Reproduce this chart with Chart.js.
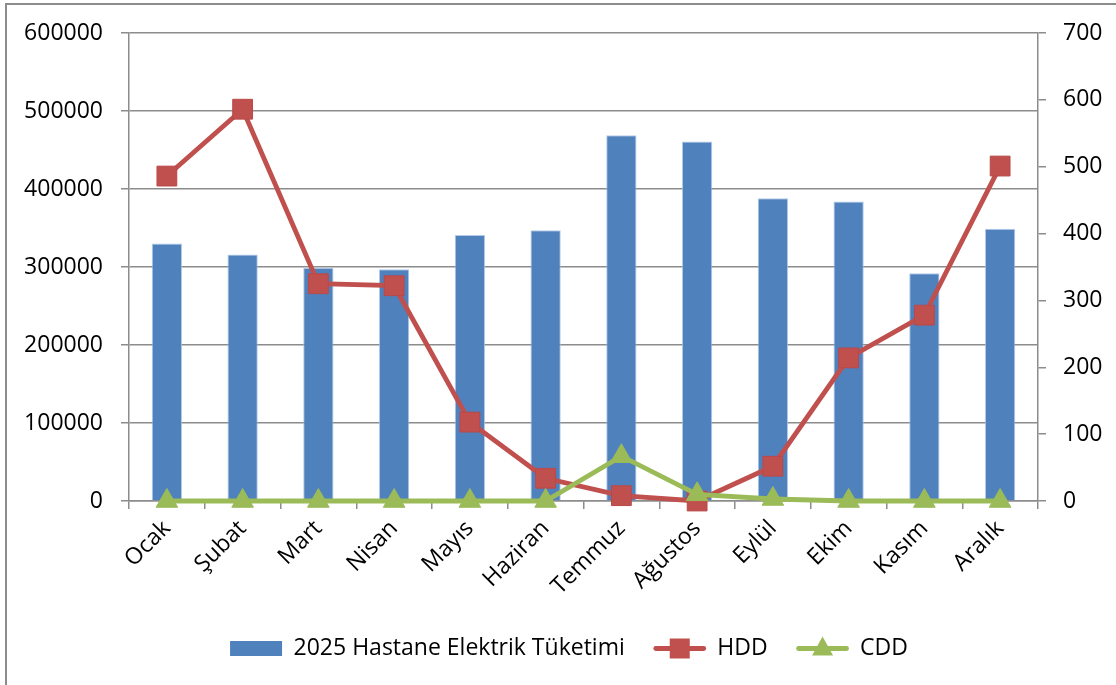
<!DOCTYPE html>
<html>
<head>
<meta charset="utf-8">
<script src="https://cdn.jsdelivr.net/npm/chart.js@4.4.1/dist/chart.umd.min.js"></script>
<style>
  html, body { margin:0; padding:0; background:#fff; }
  #wrap { position:relative; width:1116px; height:685px; overflow:hidden; }
  #frame { position:absolute; left:5px; top:3px; width:1200px; height:800px; border-left:2px solid #8c8c8c; border-top:2px solid #8c8c8c; pointer-events:none; }
  canvas { position:absolute; left:0; top:0; }
</style>
</head>
<body>
<div id="wrap">
  <canvas id="c" width="1116" height="685"></canvas>
  <div id="frame"></div>
</div>
<script>
const months = ['Ocak','Şubat','Mart','Nisan','Mayıs','Haziran','Temmuz','Ağustos','Eylül','Ekim','Kasım','Aralık'];
const elektrik = [330000,316000,299000,297000,341000,347000,469000,461000,388000,384000,292000,349000];
const hdd = [486,586,325,322,118,34,8,0,52,214,278,501];
const cdd = [0,0,0,0,0,0,67,10,3,0,0,0];
const seriesNames = ['2025 Hastane Elektrik Tüketimi','HDD','CDD'];
const leftTicks = [0,100000,200000,300000,400000,500000,600000];
const rightTicks = [0,100,200,300,400,500,600,700];

const BLUE = '#4F81BD', RED = '#C0504D', GREEN = '#9BBB59', GRID = '#8c8c8c';
const FONT = "'Open Sans', sans-serif";

const legendLines = {
  id: 'legendLines',
  afterDraw(chart) {
    const lg = chart.legend;
    if (!lg || !lg.legendHitBoxes) return;
    const ctx = chart.ctx;
    const bw = lg.options.labels.boxWidth;
    lg.legendHitBoxes.forEach((hb, i) => {
      if (i === 0) return;
      const cy = hb.top + hb.height / 2;
      const x0 = hb.left, x1 = hb.left + bw, cx = (x0 + x1) / 2;
      const col = i === 1 ? RED : GREEN;
      ctx.save();
      ctx.strokeStyle = col; ctx.lineWidth = 4.8; ctx.lineCap = 'round';
      ctx.beginPath(); ctx.moveTo(x0 + 2, cy); ctx.lineTo(x1 - 2, cy); ctx.stroke();
      ctx.fillStyle = col;
      if (i === 1) {
        ctx.fillRect(cx - 10, cy - 10, 20, 20);
      } else {
        ctx.beginPath();
        ctx.moveTo(cx, cy - 12); ctx.lineTo(cx + 10.5, cy + 7); ctx.lineTo(cx - 10.5, cy + 7);
        ctx.closePath(); ctx.fill();
      }
      ctx.restore();
    });
  }
};

new Chart(document.getElementById('c'), {
  type: 'bar',
  data: {
    labels: months,
    datasets: [
      { type:'bar', label: seriesNames[0], data: elektrik, yAxisID:'y', backgroundColor: BLUE,
        borderColor:'rgba(160,190,225,0.8)', borderWidth:1, barPercentage:0.4, categoryPercentage:1.0, order:3 },
      { type:'line', label: seriesNames[1], data: hdd, yAxisID:'y1', borderColor: RED, backgroundColor: RED,
        borderWidth:4.8, pointStyle:'rect', pointRadius:14, pointHoverRadius:14, pointBorderColor:'#b9484a', pointBorderWidth:1,
        tension:0, clip:false, order:2 },
      { type:'line', label: seriesNames[2], data: cdd, yAxisID:'y1', borderColor: GREEN, backgroundColor: GREEN,
        borderWidth:4.8, pointStyle:'triangle', pointRadius:12.5, pointHoverRadius:12.5, pointBorderColor: GREEN, pointBorderWidth:1,
        tension:0, clip:false, order:1 }
    ]
  },
  options: {
    responsive:false, animation:false, devicePixelRatio:1,
    layout: { padding: { left: 22, right: 0, top: 33, bottom: 15 } },
    plugins: {
      tooltip: { enabled:false },
      legend: {
        position:'bottom',
        labels: {
          font: { family: FONT, size: 23 }, color:'#000',
          boxWidth: 52, boxHeight: 15, padding: 29,
          generateLabels(chart) {
            return seriesNames.map((t, i) => ({
              text: t, datasetIndex: i,
              fillStyle: i === 0 ? BLUE : 'rgba(0,0,0,0)',
              strokeStyle: 'rgba(0,0,0,0)', lineWidth: 0, hidden:false
            }));
          }
        }
      }
    },
    scales: {
      x: {
        offset: true,
        grid: { display:true, drawOnChartArea:false, offset:true, drawTicks:true, tickLength:8, color:GRID, lineWidth:1.5 },
        border: { display:true, color:GRID, width:1.5 },
        ticks: { font:{ family:FONT, size:23 }, color:'#000', minRotation:45, maxRotation:45, padding:6, autoSkip:false },
        afterFit(s) { s.height = 107; }
      },
      y: {
        position:'left', min:0, max:600000,
        afterBuildTicks(s) { s.ticks = leftTicks.map(v => ({ value:v })); },
        grid: { color:GRID, lineWidth:1.5, tickLength:8, drawTicks:true },
        border: { display:true, color:GRID, width:1.5 },
        ticks: { font:{ family:FONT, size:23 }, color:'#000', padding:18, callback: v => String(v) },
        afterFit(s) { s.width = 107; }
      },
      y1: {
        position:'right', min:0, max:700,
        afterBuildTicks(s) { s.ticks = rightTicks.map(v => ({ value:v })); },
        grid: { drawOnChartArea:false, color:GRID, lineWidth:1.5, tickLength:8, drawTicks:true },
        border: { display:true, color:GRID, width:1.5 },
        ticks: { font:{ family:FONT, size:23 }, color:'#000', padding:17, callback: v => String(v) },
        afterFit(s) { s.width = 78; }
      }
    }
  },
  plugins: [legendLines]
});
</script>
</body>
</html>
